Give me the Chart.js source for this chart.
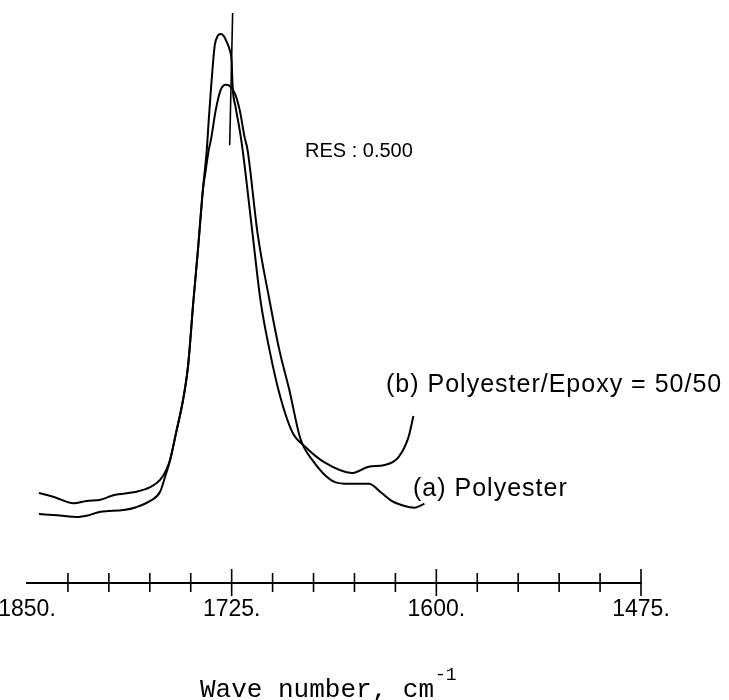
<!DOCTYPE html>
<html>
<head>
<meta charset="utf-8">
<script src="https://cdn.jsdelivr.net/npm/chart.js@4.4.1/dist/chart.umd.min.js"></script>
<style>
  body { margin: 0; background: #fff; }
  #wrap { width: 729px; height: 700px; position: relative; }
</style>
</head>
<body>
<div id="wrap"><canvas id="irChart"></canvas></div>
<script>
// wave numbers (cm-1) and absorbance
const polyesterX = [1842.7, 1831.8, 1818.4, 1813.6, 1805.1, 1791.1, 1783.3, 1774.8, 1768.7, 1765.7,
    1762.6, 1759.0, 1754.7, 1751.7, 1749.9, 1748.7, 1745.6, 1742.6, 1740.8, 1739.0, 1737.7, 1734.7,
    1731.7, 1728.6, 1726.2, 1723.2, 1720.1, 1717.1, 1715.3, 1709.2, 1701.9, 1695.9, 1689.8, 1683.1,
    1675.8, 1661.9, 1653.4, 1641.3, 1633.4, 1627.3, 1619.4, 1613.4, 1607.3];
const polyesterY = [0.121, 0.119, 0.116, 0.118, 0.125, 0.128, 0.133, 0.144, 0.160, 0.186,
    0.216, 0.263, 0.321, 0.379, 0.439, 0.484, 0.584, 0.689, 0.725, 0.760, 0.777, 0.830,
    0.865, 0.874, 0.872, 0.860, 0.830, 0.782, 0.760, 0.614, 0.496, 0.409, 0.339, 0.254,
    0.216, 0.177, 0.174, 0.174, 0.158, 0.144, 0.135, 0.132, 0.139];

const blendX = [1842.7, 1833.6, 1821.5, 1813.6, 1805.1, 1797.2, 1783.3, 1774.8, 1768.7, 1765.0,
    1762.6, 1759.0, 1754.7, 1751.7, 1749.9, 1748.7, 1745.6, 1742.6, 1740.2, 1739.0, 1737.7, 1736.5,
    1735.3, 1733.5, 1731.7, 1729.9, 1728.0, 1726.2, 1725.0, 1724.4, 1722.6, 1720.1, 1718.3, 1712.3,
    1707.4, 1701.9, 1695.9, 1688.0, 1680.1, 1668.0, 1651.6, 1641.3, 1631.6, 1623.1, 1617.0, 1614.0];
const blendY = [0.158, 0.151, 0.140, 0.144, 0.146, 0.154, 0.160, 0.168, 0.181, 0.198,
    0.216, 0.263, 0.321, 0.379, 0.439, 0.484, 0.584, 0.689, 0.760, 0.812, 0.865, 0.909,
    0.944, 0.960, 0.963, 0.960, 0.949, 0.935, 0.914, 0.870, 0.835, 0.795, 0.760, 0.614,
    0.496, 0.409, 0.333, 0.265, 0.239, 0.211, 0.193, 0.204, 0.207, 0.221, 0.256, 0.293];

// peak marker line
const markerX = [1724.4, 1726.2];
const markerY = [1.0, 0.768];

const majorTicks = [1850, 1725, 1600, 1475];
const minorTicks = [1825, 1800, 1775, 1750, 1700, 1675, 1650, 1625, 1575, 1550, 1525, 1500];
const tickLabels = ['1850.', '1725.', '1600.', '1475.'];

const toPoints = (xs, ys) => xs.map((x, i) => ({ x: x, y: ys[i] }));

// use the narrow face for the tick numbers if it is there
const probe = document.createElement('canvas').getContext('2d');
probe.font = '40px "Liberation Sans Narrow", monospace';
const wNarrow = probe.measureText('1850.').width;
probe.font = '40px monospace';
const hasNarrow = Math.abs(wNarrow - probe.measureText('1850.').width) > 0.5;
const tickFont = hasNarrow
    ? { family: '"Liberation Sans Narrow"', size: 26 }
    : { family: '"Liberation Sans", Arial', size: 23 };

const annotations = {
    id: 'annotations',
    afterDraw(chart) {
        const ctx = chart.ctx;
        const xs = chart.scales.x;
        const axisY = xs.top;
        ctx.save();
        ctx.strokeStyle = '#000';
        ctx.lineWidth = 1.6;
        ctx.beginPath();
        minorTicks.forEach(v => {
            const px = xs.getPixelForValue(v);
            ctx.moveTo(px, axisY - 10);
            ctx.lineTo(px, axisY + 9);
        });
        majorTicks.slice(1).forEach(v => {
            const px = xs.getPixelForValue(v);
            ctx.moveTo(px, axisY - 14);
            ctx.lineTo(px, axisY + 13);
        });
        ctx.stroke();

        ctx.fillStyle = '#000';
        ctx.textBaseline = 'alphabetic';
        ctx.font = '20px "Liberation Sans", Arial';
        ctx.fillText('RES : 0.500', 305, 157);

        ctx.font = '25px "Liberation Sans", Arial';
        ctx.letterSpacing = '1px';
        ctx.fillText('(b) Polyester/Epoxy = 50/50', 386, 392);
        ctx.fillText('(a) Polyester', 413, 496);
        ctx.letterSpacing = '0px';

        ctx.font = '26px "Liberation Mono", "Courier New", monospace';
        const main = 'Wave number, cm';
        ctx.fillText(main, 200, 697);
        const w = ctx.measureText(main).width;
        ctx.font = '18px "Liberation Mono", "Courier New", monospace';
        ctx.fillText('-1', 200 + w + 1, 680);
        ctx.restore();
    }
};

const lineStyle = {
    borderColor: '#000',
    borderWidth: 2,
    pointRadius: 0,
    fill: false,
    cubicInterpolationMode: 'monotone',
    clip: false
};

new Chart(document.getElementById('irChart'), {
    type: 'line',
    data: {
        datasets: [
            Object.assign({ label: '(a) Polyester', data: toPoints(polyesterX, polyesterY) }, lineStyle),
            Object.assign({ label: '(b) Polyester/Epoxy = 50/50', data: toPoints(blendX, blendY) }, lineStyle),
            { label: 'marker', data: toPoints(markerX, markerY), borderColor: '#000', borderWidth: 1.6,
              pointRadius: 0, tension: 0, clip: false }
        ]
    },
    options: {
        responsive: true,
        maintainAspectRatio: false,
        animation: false,
        layout: {
            padding: { left: 27, right: 88, top: 13, bottom: 0 }
        },
        plugins: {
            legend: { display: false },
            tooltip: { enabled: false }
        },
        scales: {
            x: {
                type: 'linear',
                reverse: true,
                min: 1475,
                max: 1850,
                afterBuildTicks: function(scale) {
                    scale.ticks = majorTicks.map(v => ({ value: v }));
                },
                afterFit: function(scale) {
                    scale.height = 117;
                    scale.paddingLeft = 0;
                    scale.paddingRight = 0;
                },
                grid: { display: true, drawOnChartArea: false, drawTicks: false },
                border: { display: true, color: '#000', width: 2 },
                ticks: {
                    padding: 13,
                    color: '#000',
                    font: tickFont,
                    maxRotation: 0,
                    autoSkip: false,
                    callback: function(value) {
                        const i = majorTicks.indexOf(value);
                        return i >= 0 ? tickLabels[i] : '';
                    }
                }
            },
            y: {
                display: false,
                min: 0,
                max: 1
            }
        }
    },
    plugins: [annotations]
});
</script>
</body>
</html>
